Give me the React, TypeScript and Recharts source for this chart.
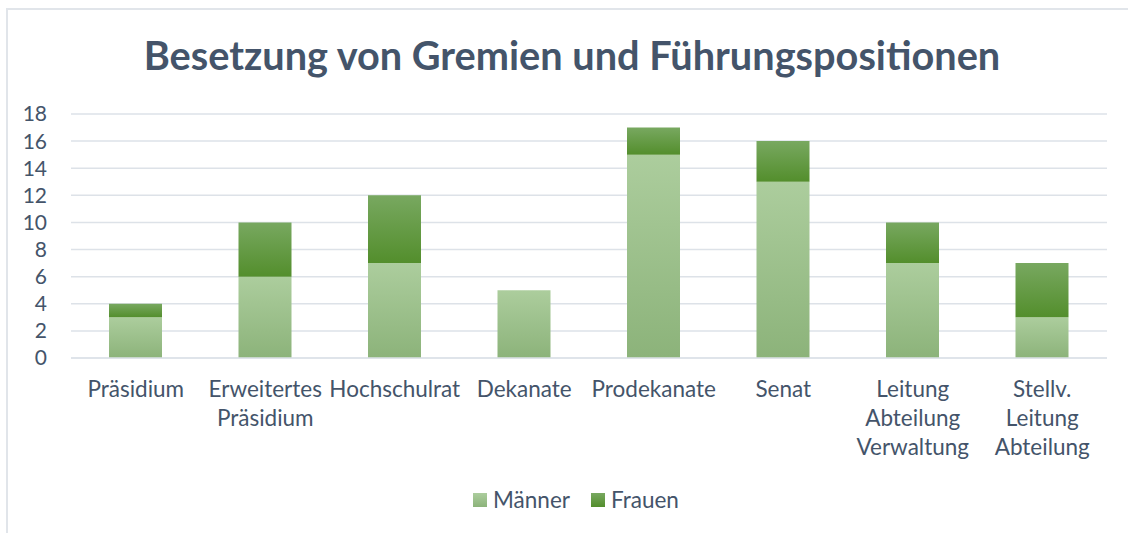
import { BarChart, Bar, XAxis, YAxis, CartesianGrid, Legend } from 'recharts';

const categories = [
  'Präsidium',
  'Erweitertes\nPräsidium',
  'Hochschulrat',
  'Dekanate',
  'Prodekanate',
  'Senat',
  'Leitung\nAbteilung\nVerwaltung',
  'Stellv.\nLeitung\nAbteilung',
];
const maenner = [3, 6, 7, 5, 15, 13, 7, 3];
const frauen = [1, 4, 5, 0, 2, 3, 3, 4];
const yTicks = [0, 2, 4, 6, 8, 10, 12, 14, 16, 18];

const data = categories.map((name, i) => ({
  name,
  Männer: maenner[i],
  Frauen: frauen[i],
}));

const TEXT = '#44546A';
const FONT = 'Lato, "Noto Sans", sans-serif';

function CategoryTick({ x, y, payload }: any) {
  const lines = String(payload.value).split('\n');
  return (
    <text x={x} y={y} textAnchor="middle" fill={TEXT} fontSize={22.5} fontFamily={FONT}>
      {lines.map((l, i) => (
        <tspan key={i} x={x} dy={i === 0 ? 31 : 29}>
          {l}
        </tspan>
      ))}
    </text>
  );
}

function LegendContent() {
  const items = [
    { name: 'Männer', fill: 'url(#gradM)' },
    { name: 'Frauen', fill: 'url(#gradF)' },
  ];
  return (
    <div style={{ display: 'flex', justifyContent: 'center', gap: 21, paddingLeft: 24, fontFamily: FONT, fontSize: 22.5, color: TEXT }}>
      {items.map((it) => (
        <div key={it.name} style={{ display: 'flex', alignItems: 'center', gap: 6 }}>
          <svg width={14} height={14}>
            <rect width={14} height={14} fill={it.fill} />
          </svg>
          <span>{it.name}</span>
        </div>
      ))}
    </div>
  );
}

export default function App() {
  return (
    <div style={{ position: 'absolute', left: 0, top: 0, width: 1128, height: 533, background: '#fff', overflow: 'hidden' }}>
      <div
        style={{
          position: 'absolute',
          left: 6,
          top: 8,
          width: 1140,
          height: 540,
          border: '2px solid #E1E5EA',
        }}
      />
      <div
        style={{
          position: 'absolute',
          left: 0,
          top: 31,
          width: 1144,
          textAlign: 'center',
          fontFamily: FONT,
          fontWeight: 700,
          fontSize: 39.7,
          color: TEXT,
        }}
      >
        Besetzung von Gremien und Führungspositionen
      </div>
      <div style={{ position: 'absolute', left: 0, top: 0 }}>
        <BarChart
          width={1128}
          height={533}
          data={data}
          margin={{ top: 114, right: 21, bottom: 55, left: 0 }}
          barSize={53}
        >
          <defs>
            <linearGradient id="gradM" x1="0" y1="0" x2="0" y2="1">
              <stop offset="0%" stopColor="#ACCD9D" />
              <stop offset="100%" stopColor="#8CB37A" />
            </linearGradient>
            <linearGradient id="gradF" x1="0" y1="0" x2="0" y2="1">
              <stop offset="0%" stopColor="#78A860" />
              <stop offset="100%" stopColor="#538E2C" />
            </linearGradient>
          </defs>
          <CartesianGrid vertical={false} stroke="#DDE2E8" strokeWidth={1.5} />
          <XAxis
            dataKey="name"
            axisLine={{ stroke: '#DDE2E8', strokeWidth: 1.5 }}
            tickLine={false}
            interval={0}
            height={120}
            tick={<CategoryTick />}
          />
          <YAxis
            width={71}
            domain={[0, 18]}
            ticks={yTicks}
            interval={0}
            axisLine={false}
            tickLine={false}
            tickMargin={18}
            tick={{ fill: TEXT, fontSize: 21, fontFamily: FONT }}
          />
          <Legend
            verticalAlign="bottom"
            content={<LegendContent />}
            wrapperStyle={{ position: 'absolute', left: 0, width: 1128, top: 486, bottom: 'auto', height: 0 }}
          />
          <Bar dataKey="Männer" stackId="a" fill="url(#gradM)" isAnimationActive={false} />
          <Bar dataKey="Frauen" stackId="a" fill="url(#gradF)" isAnimationActive={false} />
        </BarChart>
      </div>
    </div>
  );
}
